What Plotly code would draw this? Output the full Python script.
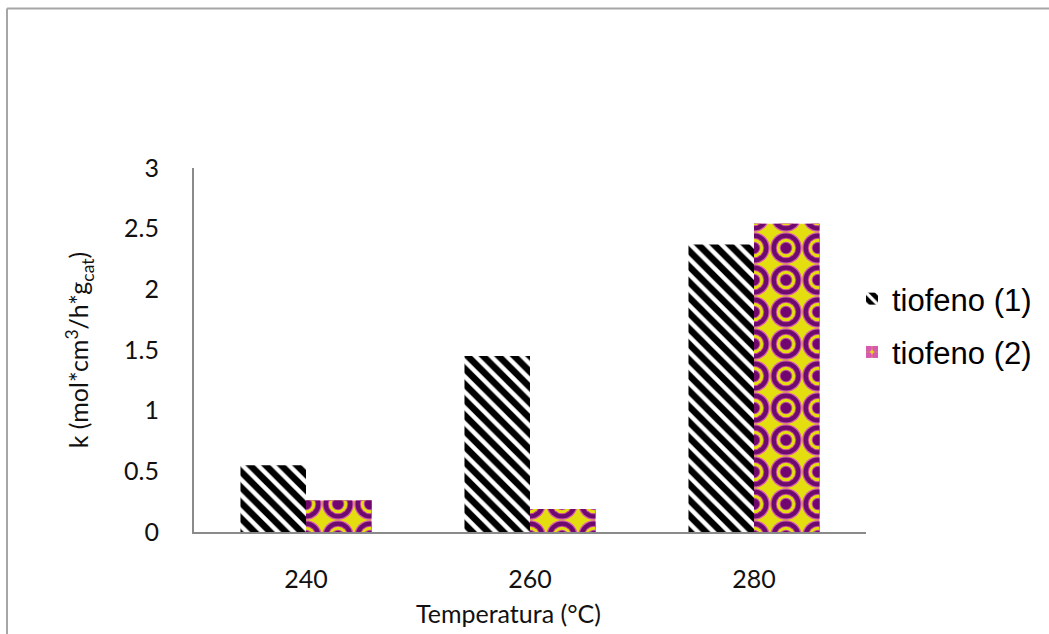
import math
import plotly.graph_objects as go

# Reaction rate constants for thiophene at three temperatures
temperaturas = ["240", "260", "280"]
tiofeno_1 = [0.55, 1.45, 2.37]
tiofeno_2 = [0.26, 0.19, 2.54]
y_ticks = [0, 0.5, 1, 1.5, 2, 2.5, 3]
y_tick_text = ["0", "0.5", "1", "1.5", "2", "2.5", "3"]

W, H = 1049, 634
L, R, T, B = 194, 183, 168, 102
PW, PH = W - L - R, H - T - B

fig = go.Figure()

# Series 1: black fill with white diagonal stripes
fig.add_trace(go.Bar(
    x=temperaturas, y=tiofeno_1, name="tiofeno (1)",
    offsetgroup="s1", legendgroup="s1",
    marker=dict(color="black", line=dict(width=0),
                pattern=dict(shape="\\", fgcolor="white", bgcolor="black",
                             fgopacity=1, size=11, solidity=0.4)),
))

# Series 2: concentric rings built from stacked dot patterns
TILE = 32
ring_layers = [          # (colour, ring diameter in px), outermost first
    ("#d85aae", 31.5),
    ("#6d0a6e", 29),
    ("#c8409c", 20.5),
    ("#e4de10", 18.5),
    ("#c04aa0", 12.5),
    ("#70066e", 10.5),
]


def dot_solidity(d):
    return math.pi * d * d / 4 / (TILE * TILE)


fig.add_trace(go.Bar(
    x=temperaturas, y=tiofeno_2, name="tiofeno (2)",
    offsetgroup="s2", legendgroup="s2",
    marker=dict(color="#e4de10", line=dict(width=0),
                pattern=dict(shape=".", fgcolor=ring_layers[0][0],
                             bgcolor="#e4de10", fgopacity=1, size=TILE,
                             solidity=dot_solidity(ring_layers[0][1]))),
))
for col, d in ring_layers[1:]:
    fig.add_trace(go.Bar(
        x=temperaturas, y=tiofeno_2, name="tiofeno (2)",
        offsetgroup="s2", legendgroup="s2", showlegend=False,
        marker=dict(color="rgba(0,0,0,0)", line=dict(width=0),
                    pattern=dict(shape=".", fgcolor=col, fgopacity=1,
                                 size=TILE, solidity=dot_solidity(d),
                                 fillmode="overlay")),
        hoverinfo="skip",
    ))

axis_font = dict(family="Lato, Open Sans, sans-serif", size=25, color="#111")

fig.update_layout(
    width=W, height=H,
    margin=dict(l=L, r=R, t=T, b=B, pad=0),
    paper_bgcolor="white", plot_bgcolor="white",
    barmode="group", bargap=0.415, bargroupgap=0,
    showlegend=True,
    legend=dict(
        x=(852 - L) / PW, y=(532 - 272) / PH, xanchor="left", yanchor="top",
        font=dict(family="Liberation Sans, Arial, sans-serif", size=31,
                  color="black"),
        tracegroupgap=10, traceorder="grouped",
        bgcolor="rgba(0,0,0,0)", itemwidth=30,
    ),
    xaxis=dict(
        type="category", showgrid=False, showline=True,
        linecolor="#8a8a8a", linewidth=2, ticks="", tickfont=axis_font,
        ticklabelstandoff=24,
    ),
    yaxis=dict(
        range=[0, 3], tickvals=y_ticks, ticktext=y_tick_text,
        showgrid=False, showline=True, linecolor="#8a8a8a", linewidth=2,
        ticks="", tickfont=axis_font, ticklabelstandoff=28, zeroline=False,
        title=dict(text="k (mol*cm<sup>3</sup>/h*g<sub>cat</sub>)",
                   font=axis_font, standoff=28),
    ),
)

# X-axis title, set slightly left of the plot centre
fig.add_annotation(
    text="Temperatura (°C)", xref="paper", yref="paper",
    x=(508 - L) / PW, y=(H - B - 613) / PH,
    xanchor="center", yanchor="middle", showarrow=False, font=axis_font,
)

# Outer chart frame (left and top edges)
fx0 = (7 - L) / PW
fx1 = (W + 5 - L) / PW
fy_top = (H - B - 8.5) / PH
fy_bot = (H - B - H - 5) / PH
frame = dict(type="line", xref="paper", yref="paper",
             line=dict(color="#a6a6a6", width=2), layer="below")
fig.add_shape(x0=fx0, x1=fx0, y0=fy_bot, y1=fy_top, **frame)
fig.add_shape(x0=fx0, x1=fx1, y0=fy_top, y1=fy_top, **frame)

fig.write_html("out.html")
